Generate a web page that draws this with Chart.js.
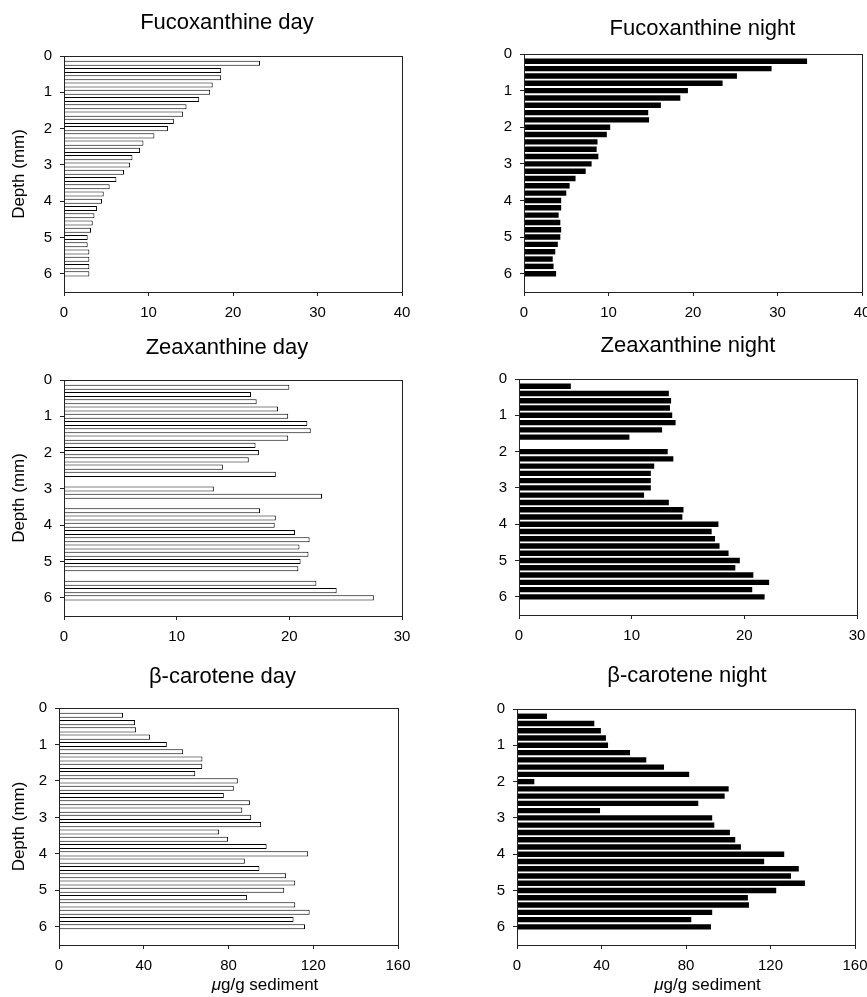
<!DOCTYPE html>
<html>
<head>
<meta charset="utf-8">
<title>Pigment depth profiles</title>
<script src="https://cdn.jsdelivr.net/npm/chart.js@4/dist/chart.umd.min.js"></script>
<style>
  html, body { margin: 0; padding: 0; background: #fff; width: 867px; height: 997px; overflow: hidden; }
  canvas.panel { position: absolute; }
</style>
</head>
<body>
<canvas id="fucoDay" class="panel"></canvas>
<canvas id="fucoNight" class="panel"></canvas>
<canvas id="zeaDay" class="panel"></canvas>
<canvas id="zeaNight" class="panel"></canvas>
<canvas id="betaDay" class="panel"></canvas>
<canvas id="betaNight" class="panel"></canvas>
<script>
// sampling depths (mm), one slice every 0.2 mm
const depths = [0.2, 0.4, 0.6, 0.8, 1.0, 1.2, 1.4, 1.6, 1.8, 2.0,
                2.2, 2.4, 2.6, 2.8, 3.0, 3.2, 3.4, 3.6, 3.8, 4.0,
                4.2, 4.4, 4.6, 4.8, 5.0, 5.2, 5.4, 5.6, 5.8, 6.0];
const depthTicks = [0, 1, 2, 3, 4, 5, 6];

// pigment concentrations, µg/g sediment (null = no sample)
const fucoDay = [23.2, 18.6, 18.6, 17.6, 17.3, 16.0, 14.5, 14.1, 13.0, 12.3,
                 10.7, 9.4, 9.0, 8.1, 7.8, 7.1, 6.2, 5.4, 4.7, 4.5,
                 3.9, 3.6, 3.4, 3.2, 2.8, 2.8, 3.0, 3.0, 3.0, 3.0];
const fucoNight = [33.5, 29.3, 25.2, 23.5, 19.4, 18.5, 16.2, 14.7, 14.8, 10.2,
                   9.8, 8.7, 8.6, 8.8, 8.0, 7.3, 6.1, 5.4, 5.0, 4.4,
                   4.4, 4.1, 4.3, 4.4, 4.3, 4.0, 3.7, 3.4, 3.5, 3.8];
const zeaDay = [20.0, 16.6, 17.1, 19.0, 19.9, 21.6, 21.9, 19.9, 17.0, 17.3,
                16.4, 14.1, 18.8, null, 13.3, 22.9, null, 17.4, 18.8, 18.7,
                20.5, 21.8, 20.9, 21.7, 21.0, 20.8, null, 22.4, 24.2, 27.5];
const zeaNight = [4.6, 13.3, 13.5, 13.4, 13.6, 13.9, 12.7, 9.8, null, 13.2,
                  13.7, 12.0, 11.7, 11.7, 11.7, 11.1, 13.3, 14.6, 14.5, 17.7,
                  17.1, 17.4, 17.8, 18.6, 19.6, 19.2, 20.8, 22.2, 20.7, 21.8];
const betaDay = [30.2, 35.9, 36.4, 43.0, 50.9, 58.6, 67.7, 67.6, 64.3, 84.4,
                 82.5, 77.8, 90.1, 86.5, 90.7, 95.4, 75.6, 79.8, 98.0, 117.6,
                 87.7, 94.6, 107.2, 111.5, 106.3, 88.7, 111.5, 118.3, 110.7, 116.1];
const betaNight = [14.2, 36.6, 39.7, 42.1, 43.1, 53.5, 61.2, 69.6, 81.5, 8.2,
                   100.2, 98.3, 85.8, 39.3, 92.4, 93.4, 100.8, 103.3, 106.0, 126.5,
                   117.0, 133.4, 129.7, 136.3, 122.7, 109.3, 109.8, 92.4, 82.5, 91.8];

const fucoTicks = [0, 10, 20, 30, 40];
const zeaTicks = [0, 10, 20, 30];
const betaTicks = [0, 40, 80, 120, 160];

Chart.defaults.font.family = '"Liberation Sans", Arial, Helvetica, sans-serif';
Chart.defaults.color = '#000';

const FONT = '"Liberation Sans", Arial, Helvetica, sans-serif';
const TITLE_SIZE = 22;

// closes the plot box on the top and right sides
const frame = {
    id: 'frame',
    afterDatasetsDraw(chart) {
        const { ctx, chartArea: a } = chart;
        ctx.save();
        ctx.strokeStyle = '#222';
        ctx.lineWidth = 1;
        ctx.strokeRect(Math.round(a.left) + 0.5, Math.round(a.top) + 0.5,
                       Math.round(a.right - a.left), Math.round(a.bottom - a.top));
        ctx.restore();
    }
};

// x axis caption with an italic mu
const caption = {
    id: 'caption',
    afterDraw(chart, args, opts) {
        if (!opts || !opts.text) return;
        const ctx = chart.ctx;
        ctx.save();
        ctx.fillStyle = '#000';
        ctx.textBaseline = 'alphabetic';
        ctx.textAlign = 'left';
        const italicFont = 'italic 17px ' + FONT;
        const plainFont = '17px ' + FONT;
        ctx.font = italicFont;
        const w1 = ctx.measureText(opts.symbol).width;
        ctx.font = plainFont;
        const w2 = ctx.measureText(opts.text).width;
        let x = opts.x - (w1 + w2) / 2;
        ctx.font = italicFont;
        ctx.fillText(opts.symbol, x, opts.y);
        ctx.font = plainFont;
        ctx.fillText(opts.text, x + w1, opts.y);
        ctx.restore();
    }
};

/**
 * Draw one depth profile as horizontal bars
 * @param {string} id - canvas id
 * @param {Object} box - placement of the canvas and of its plot area on the page
 * @param {string} title - panel title
 * @param {Array} values - concentration per depth
 * @param {Array} xTicks - tick values of the concentration axis
 * @param {boolean} night - filled bars for the night series
 */
function drawProfile(id, box, title, values, xTicks, night) {
    const canvas = document.getElementById(id);
    const width = Math.round(2 * (box.titleX - box.left));
    const height = box.bottom - box.top;
    canvas.width = width;
    canvas.height = height;
    canvas.style.left = box.left + 'px';
    canvas.style.top = box.top + 'px';
    canvas.style.width = width + 'px';
    canvas.style.height = height + 'px';

    const yAxisWidth = box.plotLeft - box.left;
    const rightSpace = box.left + width - box.plotRight;
    const xAxisHeight = box.bottom - box.plotBottom;
    const half = TITLE_SIZE * 1.2 / 2;

    const points = depths
        .map((d, i) => ({ y: d, x: values[i] }))
        .filter(p => p.x !== null);

    new Chart(canvas, {
        type: 'bar',
        data: {
            datasets: [{
                data: points,
                backgroundColor: night ? '#000' : '#fff',
                borderColor: '#000',
                borderWidth: night ? 0 : 1,
                barPercentage: night ? 0.74 : 0.7,
                categoryPercentage: 1
            }]
        },
        options: {
            indexAxis: 'y',
            responsive: false,
            animation: false,
            devicePixelRatio: 1,
            layout: { padding: 0 },
            scales: {
                x: {
                    type: 'linear',
                    position: 'bottom',
                    min: xTicks[0],
                    max: xTicks[xTicks.length - 1],
                    afterBuildTicks: s => { s.ticks = xTicks.map(v => ({ value: v })); },
                    afterFit: s => { s.height = xAxisHeight; },
                    grid: { drawOnChartArea: false, drawTicks: true, tickLength: 4, color: '#222' },
                    border: { color: '#222' },
                    ticks: { font: { size: 15 }, color: '#000', padding: 8, maxRotation: 0 }
                },
                y: {
                    type: 'linear',
                    position: 'left',
                    reverse: true,
                    offset: false,
                    min: 0,
                    max: 6.5,
                    afterBuildTicks: s => { s.ticks = depthTicks.map(v => ({ value: v })); },
                    afterFit: s => { s.width = yAxisWidth; },
                    grid: { offset: false, drawOnChartArea: false, drawTicks: true, tickLength: 4, color: '#222' },
                    border: { color: '#222' },
                    ticks: { font: { size: 15 }, color: '#000', padding: 8 },
                    title: {
                        display: !!box.depthLabel,
                        text: 'Depth (mm)',
                        font: { size: 17 },
                        color: '#000',
                        padding: { top: 9, bottom: 0 }
                    }
                },
                // empty spacer on the right so the title stays centred where it belongs
                spacer: {
                    type: 'linear',
                    position: 'right',
                    display: true,
                    grid: { display: false },
                    border: { display: false },
                    ticks: { display: false },
                    afterFit: s => { s.width = rightSpace; }
                }
            },
            plugins: {
                legend: { display: false },
                tooltip: { enabled: false },
                title: {
                    display: true,
                    text: title,
                    color: '#000',
                    font: { size: TITLE_SIZE, weight: 'normal' },
                    padding: {
                        top: box.titleY - box.top - half,
                        bottom: box.plotTop - box.titleY - half
                    }
                },
                caption: box.captionX ? {
                    symbol: 'μ',
                    text: 'g/g sediment',
                    x: box.captionX - box.left,
                    y: box.captionY - box.top
                } : {}
            }
        },
        plugins: [frame, caption]
    });
}

drawProfile('fucoDay',
    { left: 0, top: 0, bottom: 325, plotLeft: 64, plotRight: 402, plotTop: 56, plotBottom: 292,
      titleX: 227, titleY: 23, depthLabel: true },
    'Fucoxanthine day', fucoDay, fucoTicks, false);

drawProfile('fucoNight',
    { left: 430, top: 0, bottom: 325, plotLeft: 524, plotRight: 862, plotTop: 54, plotBottom: 292,
      titleX: 702.5, titleY: 29 },
    'Fucoxanthine night', fucoNight, fucoTicks, true);

drawProfile('zeaDay',
    { left: 0, top: 330, bottom: 652, plotLeft: 64, plotRight: 402, plotTop: 380, plotBottom: 616,
      titleX: 227, titleY: 347.5, depthLabel: true },
    'Zeaxanthine day', zeaDay, zeaTicks, false);

drawProfile('zeaNight',
    { left: 430, top: 330, bottom: 652, plotLeft: 519, plotRight: 857, plotTop: 379, plotBottom: 615,
      titleX: 688, titleY: 345.5 },
    'Zeaxanthine night', zeaNight, zeaTicks, true);

drawProfile('betaDay',
    { left: 0, top: 660, bottom: 997, plotLeft: 59, plotRight: 398, plotTop: 708, plotBottom: 945,
      titleX: 222.5, titleY: 676.5, depthLabel: true, captionX: 265, captionY: 990 },
    'β-carotene day', betaDay, betaTicks, false);

drawProfile('betaNight',
    { left: 430, top: 660, bottom: 997, plotLeft: 517, plotRight: 855, plotTop: 709, plotBottom: 945,
      titleX: 687, titleY: 676, captionX: 707.5, captionY: 990 },
    'β-carotene night', betaNight, betaTicks, true);
</script>
</body>
</html>
